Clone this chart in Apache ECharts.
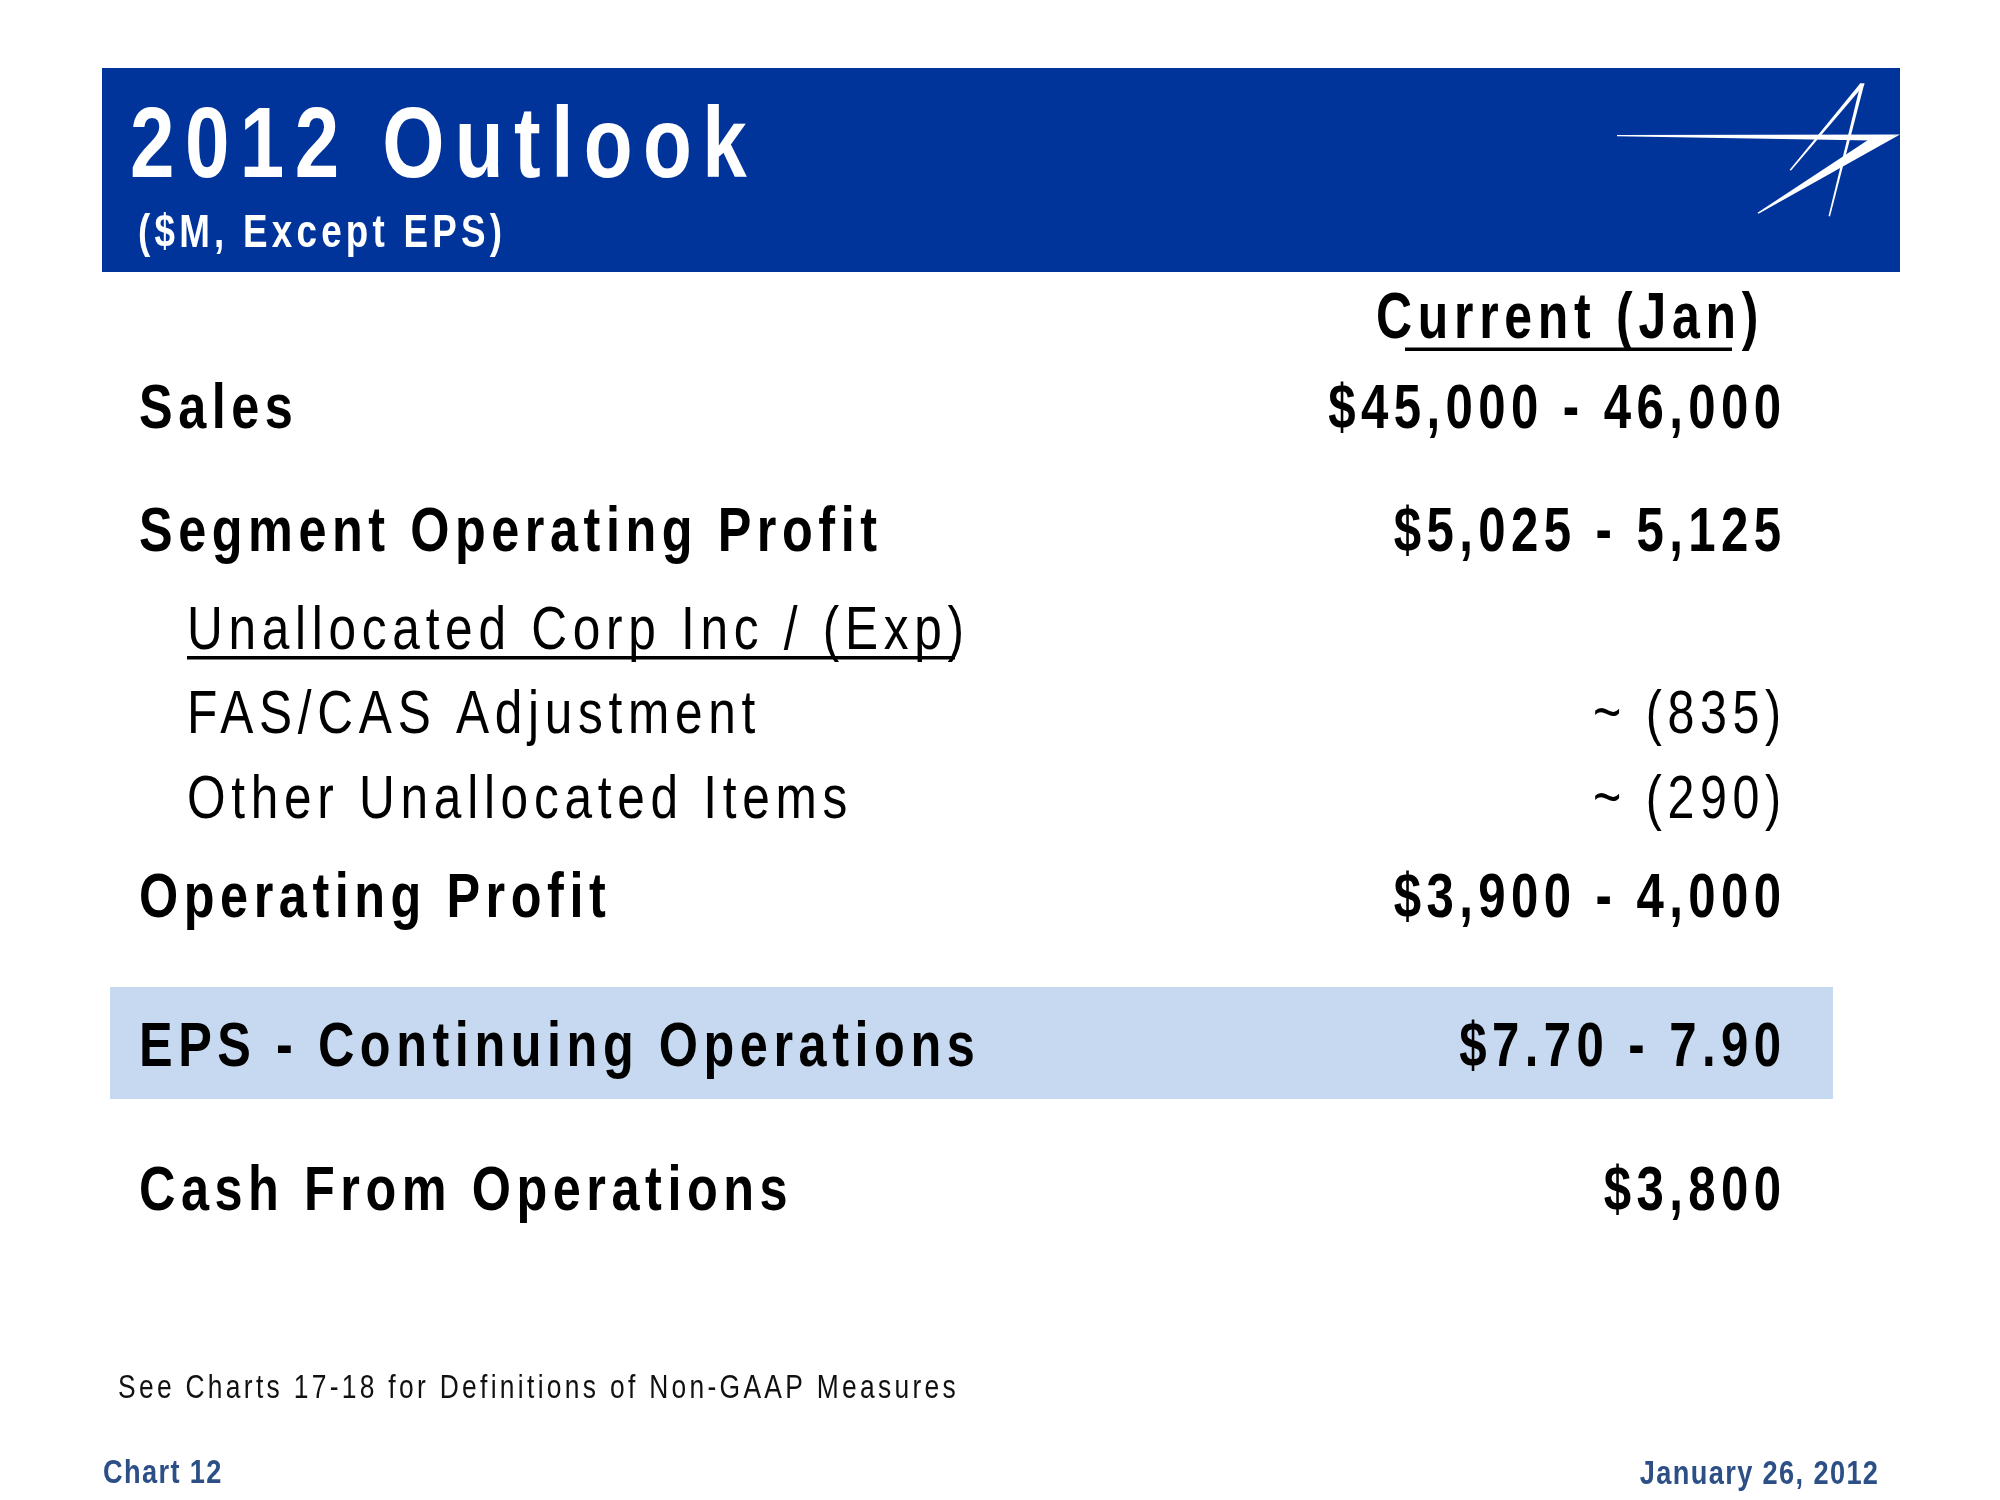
<!DOCTYPE html>
<html>
<head>
<meta charset="utf-8">
<title>2012 Outlook</title>
<script src="https://cdn.jsdelivr.net/npm/echarts@6/dist/echarts.min.js"></script>
<style>
  html, body { margin: 0; padding: 0; background: #fff; }
  #main { width: 2000px; height: 1500px; }
</style>
</head>
<body>
<div id="main"></div>
<script>
var titleText = '2012 Outlook';
var subtitleText = '($M, Except EPS)';
var columnHeader = 'Current (Jan)';

var rowLabels = [
    'Sales',
    'Segment Operating Profit',
    'Unallocated Corp Inc / (Exp)',
    'FAS/CAS Adjustment',
    'Other Unallocated Items',
    'Operating Profit',
    'EPS - Continuing Operations',
    'Cash From Operations'
];
var rowValues = [
    '$45,000 - 46,000',
    '$5,025 - 5,125',
    '',
    '~ (835)',
    '~ (290)',
    '$3,900 - 4,000',
    '$7.70 - 7.90',
    '$3,800'
];

var footnote = 'See Charts 17-18 for Definitions of Non-GAAP Measures';
var chartNumber = 'Chart 12';
var chartDate = 'January 26, 2012';

// layout of the rows (cap centre y), kept apart from the values
var rowY = [411, 534, 632, 716, 801, 900, 1049, 1193];
var rowMain = [true, true, false, false, false, true, true, true];

var NAVY = '#01349b';
var FOOT = '#2c4f86';

// slide type is a narrow face with wide tracking; canvas can track, echarts can't
var tracking = { 100: 0.13, 63: 0.11, 34: 0.05, 33: 0.125 };
var fillText0 = CanvasRenderingContext2D.prototype.fillText;
CanvasRenderingContext2D.prototype.fillText = function (t, x, y, w) {
    var m = /(\d+(?:\.\d+)?)px/.exec(this.font);
    var size = m ? +m[1] : 12;
    var ls = size * (tracking[size] || 0.115);
    this.letterSpacing = ls + 'px';
    if (this.textAlign === 'right' || this.textAlign === 'end') x += ls;
    if (w === undefined) return fillText0.call(this, t, x, y);
    return fillText0.call(this, t, x, y, w);
};

function txt(str, x, y, size, bold, color, align, sx) {
    align = align || 'left';
    return {
        type: 'text',
        x: x,
        y: y,
        scaleX: sx || 0.8,
        style: {
            text: str,
            fontFamily: 'Liberation Sans',
            fontSize: size,
            fontWeight: bold ? 'bold' : 'normal',
            fill: color,
            align: align,
            textAlign: align,
            verticalAlign: 'middle',
            textVerticalAlign: 'middle'
        }
    };
}

function poly(points) {
    return { type: 'polygon', shape: { points: points }, style: { fill: '#fff' } };
}

var myChart = echarts.init(document.getElementById('main'), null, { renderer: 'canvas' });

var elements = [
    // header band
    { type: 'rect', shape: { x: 102, y: 68, width: 1798, height: 204 }, style: { fill: NAVY } },
    txt(titleText, 130, 149, 100, true, '#fff'),
    txt(subtitleText, 138, 234, 46, true, '#fff'),
    // star logo
    poly([[1617, 135], [1900, 134.5], [1872, 140.5], [1617, 136.2]]),
    poly([[1900, 134.5], [1758.5, 213.8], [1757.5, 212.8], [1868, 140]]),
    poly([[1860.5, 83], [1864.5, 84.5], [1791, 170.5], [1789.5, 170]]),
    poly([[1860.5, 84], [1864.5, 83], [1830, 216.5], [1828.5, 216]]),

    // EPS highlight
    { type: 'rect', shape: { x: 110, y: 987, width: 1723, height: 112 }, style: { fill: '#c6d9f0' } },

    // column head
    txt(columnHeader, 1376, 320, 64, true, '#000', 'left', 0.78),
    { type: 'rect', shape: { x: 1405, y: 347.5, width: 327, height: 3.5 }, style: { fill: '#000' } },

    // underline of the unallocated block
    { type: 'rect', shape: { x: 187, y: 656, width: 768, height: 3.5 }, style: { fill: '#000' } }
];

rowLabels.forEach(function (label, i) {
    var main = rowMain[i];
    var size = main ? 63 : 62;
    elements.push(txt(label, main ? 139 : 187, rowY[i], size, main, '#000'));
    if (rowValues[i]) {
        elements.push(txt(rowValues[i], 1781, rowY[i], size, main, '#000', 'right', 0.78));
    }
});

elements.push(txt(footnote, 118, 1389, 33, false, '#111'));
elements.push(txt(chartNumber, 103, 1474, 34, true, FOOT));
elements.push(txt(chartDate, 1878, 1475, 34, true, FOOT, 'right'));

myChart.setOption({
    backgroundColor: '#fff',
    animation: false,
    graphic: { elements: elements }
});
</script>
</body>
</html>
